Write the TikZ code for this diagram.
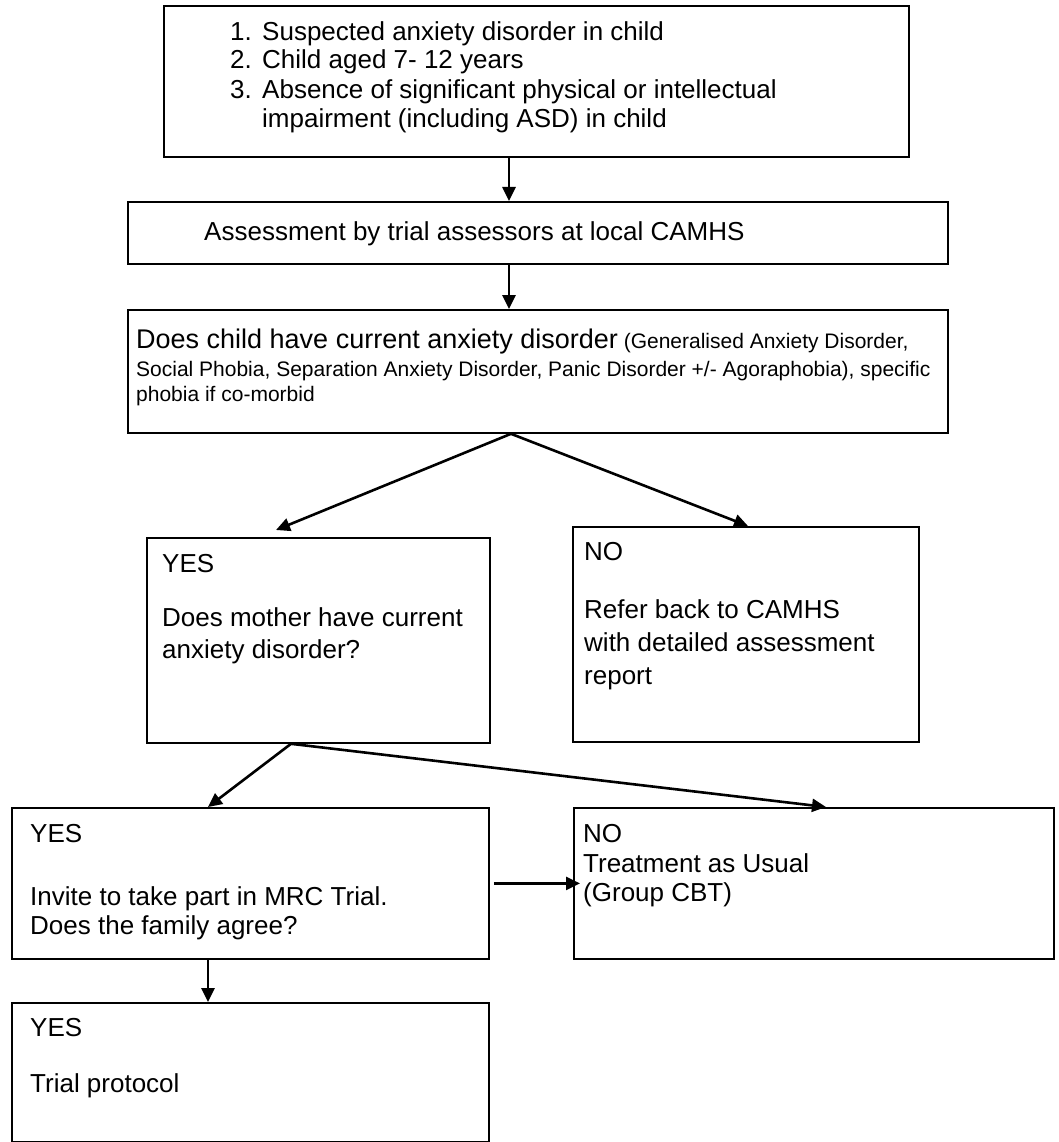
\documentclass[tikz,border=0pt]{standalone}
\usepackage{fontspec}
\setmainfont{Liberation Sans}
\usetikzlibrary{arrows.meta}
\tikzset{
  box/.style={draw=black, line width=1.8pt, fill=none, inner sep=0pt, anchor=north west},
  arr/.style={line width=2.6pt, -{Triangle[length=14pt,width=13pt]}},
  txt/.style={anchor=base west, inner sep=0pt, font=\fontsize{26}{30}\selectfont},
  big/.style={anchor=base west, inner sep=0pt, font=\fontsize{27}{31}\selectfont},
  small/.style={anchor=base west, inner sep=0pt, font=\fontsize{21}{25}\selectfont}
}
\begin{document}
\begin{tikzpicture}[x=1pt,y=-1pt]
\useasboundingbox[fill=white] (0,0) rectangle (1059,1142);
% boxes
\node[box, minimum width=745pt, minimum height=151pt] (b1) at (163,5) {};
\node[box, minimum width=820pt, minimum height=62pt] (b2) at (127,201) {};
\node[box, minimum width=820pt, minimum height=123pt] (b3) at (127,309) {};
\node[box, minimum width=343pt, minimum height=205pt] (b4) at (146,537) {};
\node[box, minimum width=346pt, minimum height=215pt] (b5) at (572,526) {};
\node[box, minimum width=477pt, minimum height=151pt] (b6) at (11,807) {};
\node[box, minimum width=480pt, minimum height=151pt] (b7) at (573,807) {};
\node[box, minimum width=477pt, minimum height=139pt] (b8) at (11,1002) {};
% texts
\node[txt] (n1) at (230,41) {1.};
\node[txt] (t1) at (262,41) {Suspected anxiety disorder in child};
\node[txt] (n2) at (230,69) {2.};
\node[txt] (t2) at (262,69) {Child aged 7- 12 years};
\node[txt] (n3) at (230,99) {3.};
\node[txt] (t3) at (262,99) {Absence of significant physical or intellectual};
\node[txt] (t4) at (262,128) {impairment (including ASD) in child};
\node[txt] (t5) at (204,240) {Assessment by trial assessors at local CAMHS};
\node[big] (t6) at (136,348) {Does child have current anxiety disorder{\fontsize{21}{25}\selectfont\ (Generalised Anxiety Disorder,}};
\node[small] (t7) at (136,376) {Social Phobia, Separation Anxiety Disorder, Panic Disorder +/- Agoraphobia), specific};
\node[small] (t8) at (136,401) {phobia if co-morbid};
\node[txt] (t9) at (162,572) {YES};
\node[txt] (t10) at (162,626) {Does mother have current};
\node[txt] (t11) at (162,658) {anxiety disorder?};
\node[txt] (t12) at (584,560) {NO};
\node[txt] (t13) at (584,618) {Refer back to CAMHS};
\node[txt] (t14) at (584,651) {with detailed assessment};
\node[txt] (t15) at (584,684) {report};
\node[txt] (t16) at (30,842) {YES};
\node[txt] (t17) at (30,905) {Invite to take part in MRC Trial.};
\node[txt] (t18) at (30,934) {Does the family agree?};
\node[txt] (t19) at (583,842) {NO};
\node[txt] (t20) at (583,872) {Treatment as Usual};
\node[txt] (t21) at (583,901) {(Group CBT)};
\node[txt] (t22) at (30,1036) {YES};
\node[txt] (t23) at (30,1092) {Trial protocol};
% helper coordinates
\coordinate (xa) at (509,0);
\coordinate (xb) at (511,0);
\coordinate (xc) at (291,0);
\coordinate (xd) at (748,0);
\coordinate (xe) at (208,0);
\coordinate (xf) at (826,0);
\coordinate (yestip) at (276,530);
% connectors
\draw[arr] (b1.south -| xa) -- (b2.north -| xa);
\draw[arr] (b2.south -| xa) -- (b3.north -| xa);
\draw[arr] (b3.south -| xb) -- (yestip);
\draw[arr] (b3.south -| xb) -- (b5.north -| xd);
\draw[arr] (b4.south -| xc) -- (b6.north -| xe);
\draw[arr] (b4.south -| xc) -- (b7.north -| xf);
\draw[arr] ([xshift=4pt]b6.east) -- ([xshift=7pt]b7.west);
\draw[arr] (b6.south -| xe) -- (b8.north -| xe);
\end{tikzpicture}
\end{document}
